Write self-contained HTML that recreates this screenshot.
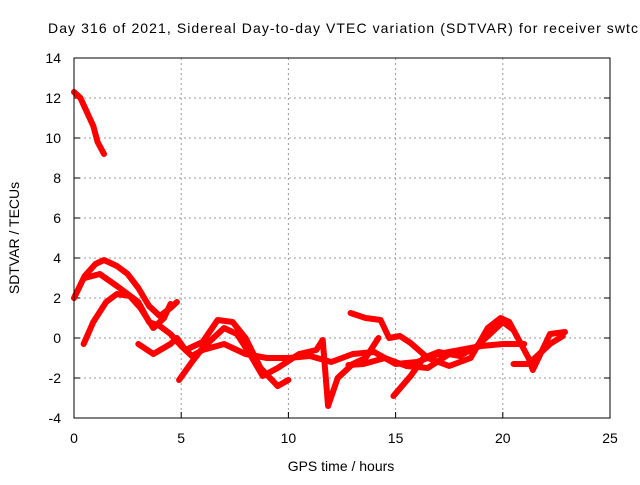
<!DOCTYPE html>
<html><head><meta charset="utf-8"><style>
body{margin:0;background:#fff}
svg text{font-family:"Liberation Sans",sans-serif;font-size:14px;fill:#000}
</style></head><body>
<svg id="c" width="640" height="480">
<rect width="640" height="480" fill="#fff"/>
<text x="48" y="33" textLength="590" lengthAdjust="spacing">Day 316 of 2021, Sidereal Day-to-day VTEC variation (SDTVAR) for receiver swtc</text>
<text x="341" y="471" text-anchor="middle">GPS time / hours</text>
<text transform="translate(19,238) rotate(-90)" text-anchor="middle">SDTVAR / TECUs</text>
<g id="grid"></g><g id="series"></g>
<rect x="74" y="58" width="536" height="360" fill="none" stroke="#000" stroke-width="1"/>
</svg>
<script>
const xTicks=[0,5,10,15,20,25];
const yTicks=[-4,-2,0,2,4,6,8,10,12,14];
const s1=[[0,12.3],[0.3,12],[0.6,11.3],[0.9,10.6],[1.1,9.8],[1.4,9.2]];
const s2=[[0,2.0],[0.5,3.1],[1,3.7],[1.4,3.9],[2,3.6],[2.5,3.2],[3,2.5],[3.5,1.6],[4,1.1],[4.5,1.5],[4.8,1.8]];
const s3=[[0.45,-0.3],[0.9,0.8],[1.5,1.8],[2,2.2],[2.6,2.1],[3.1,1.5],[3.7,0.5],[4.2,1.0],[4.5,1.7]];
const s4=[[0.5,3.0],[1.2,3.2],[2,2.6],[3,1.8],[3.5,0.8],[4,0.6],[4.5,0.2],[5,-0.4],[5.5,-0.9],[6,-0.6],[7,-0.3],[8,-0.8],[9,-1.0],[10,-1.0],[11,-0.9],[12,-1.2],[13,-0.8],[14,-0.7],[15,-1.3],[16,-1.2],[17,-0.8],[18,-0.6],[19,-0.4],[20,-0.3],[21,-0.3]];
const s5=[[3,-0.3],[3.7,-0.8],[4.5,-0.3],[4.8,0.0],[5.2,-0.6],[6,-0.2],[6.7,0.9],[7.4,0.8],[8,0],[8.7,-1.5],[9.5,-2.4],[10,-2.1]];
const s6=[[4.9,-2.1],[5.5,-1.2],[6,-0.5],[6.5,0],[7,0.5],[7.6,0.2],[8.2,-0.8],[8.8,-1.9],[9.5,-1.5],[10.5,-0.8],[11.3,-0.6],[11.6,-0.1],[11.85,-3.4],[12.3,-2.0],[13,-1.3],[13.6,-1.0],[14.2,0]];
const s7=[[12.9,1.25],[13.6,1.0],[14.3,0.9],[14.7,0],[15.2,0.1],[15.7,-0.25],[16.5,-1.0],[17.5,-1.4],[18.5,-1.0],[19.3,0.5],[19.9,1.0],[20.3,0.8],[20.7,0],[21.2,-1.0],[21.4,-1.6],[21.8,-0.7],[22.2,0.2],[22.9,0.3]];
const s8=[[14.9,-2.9],[15.7,-1.9],[16.3,-1.0],[17,-0.7],[18,-0.9],[18.8,-0.4],[19.5,0.3],[20,0.8],[20.5,0.4]];
const s9=[[12.8,-1.35],[13.5,-1.3],[14.5,-1.0],[15.5,-1.4],[16.5,-1.5],[17.5,-0.8]];
const s10=[[20.5,-1.3],[21.2,-1.3],[21.7,-0.8],[22.2,-0.3],[22.8,0.1]];
const series=[s1,s2,s3,s4,s5,s6,s7,s8,s9,s10];
const X=h=>74+h*536/25, Y=v=>338-v*20;
const NS="http://www.w3.org/2000/svg";
const g=document.getElementById('grid'), sg=document.getElementById('series');
function mk(t,a,p){const e=document.createElementNS(NS,t);for(const k in a)e.setAttribute(k,a[k]);p.appendChild(e);return e;}
xTicks.forEach(t=>{
  if(t>0&&t<25){const l=mk('line',{x1:X(t),x2:X(t),y1:58,y2:418,stroke:'#999','stroke-dasharray':'2,3'},g);
  
  }
  const tk=mk('line',{x1:X(t),x2:X(t),y1:418,y2:412,stroke:'#000'},g);
  
  
  const tx=mk('text',{x:X(t),y:443,'text-anchor':'middle'},g);tx.textContent=t;
  
  
});
yTicks.forEach(t=>{
  if(t>-4&&t<14){const l=mk('line',{x1:74,x2:610,y1:Y(t),y2:Y(t),stroke:'#999','stroke-dasharray':'2,3'},g);
  
  }
  const tk=mk('line',{x1:74,x2:80,y1:Y(t),y2:Y(t),stroke:'#000'},g);
  
  
  const tk2=mk('line',{x1:604,x2:610,y1:Y(t),y2:Y(t),stroke:'#000'},g);
  
  
  const tx=mk('text',{x:61,y:Y(t)+5,'text-anchor':'end'},g);tx.textContent=t;
  
  
});
series.forEach((s,i)=>{
  const p=mk('polyline',{points:s.map(d=>X(d[0])+','+Y(d[1])).join(' '),fill:'none',stroke:'#f00','stroke-width':6,'stroke-linejoin':'round','stroke-linecap':'round'},sg);
  
  
});
</script>
</body></html>
